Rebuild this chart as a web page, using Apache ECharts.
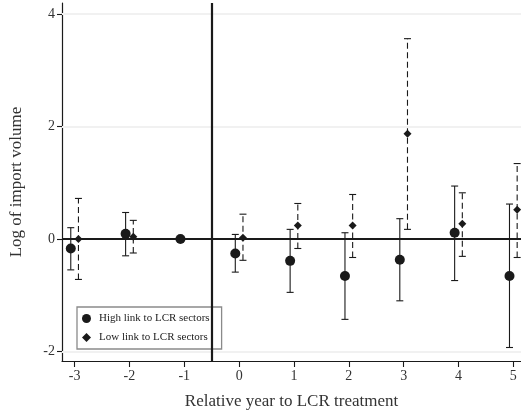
<!DOCTYPE html>
<html>
<head>
<meta charset="utf-8">
<script src="https://cdn.jsdelivr.net/npm/echarts@6/dist/echarts.min.js"></script>
<style>
html,body{margin:0;padding:0;background:#fff;}
#c{width:521px;height:416px;}
</style>
</head>
<body>
<div id="c"></div>
<script>
var years = [-3, -2, -1, 0, 1, 2, 3, 4, 5];
var xTicks = [-3, -2, -1, 0, 1, 2, 3, 4, 5];
var yTicks = [-2, 0, 2, 4];
var highEst = [-0.17, 0.09, 0.0, -0.26, -0.39, -0.66, -0.37, 0.11, -0.66];
var highLo  = [-0.55, -0.30, null, -0.59, -0.95, -1.43, -1.10, -0.74, -1.93];
var highHi  = [0.20, 0.47, null, 0.08, 0.17, 0.11, 0.36, 0.94, 0.62];
var lowYears = [-3, -2, 0, 1, 2, 3, 4, 5];
var lowEst = [0.00, 0.04, 0.02, 0.24, 0.24, 1.87, 0.27, 0.52];
var lowLo  = [-0.72, -0.25, -0.38, -0.17, -0.33, 0.17, -0.31, -0.33];
var lowHi  = [0.72, 0.33, 0.44, 0.63, 0.79, 3.56, 0.82, 1.34];
var OFF = 0.07;
var FONT = 'Liberation Serif';
var INK = '#1a1a1a';

var highPts = years.map(function (y, i) { return [y - OFF, highEst[i]]; });
var highCI = [];
years.forEach(function (y, i) { if (highLo[i] !== null) highCI.push([y - OFF, highLo[i], highHi[i]]); });
var lowPts = lowYears.map(function (y, i) { return [y + OFF, lowEst[i]]; });
var lowCI = lowYears.map(function (y, i) { return [y + OFF, lowLo[i], lowHi[i]]; });

function errRender(dashed) {
  return function (params, api) {
    var x = api.value(0), lo = api.value(1), hi = api.value(2);
    var p1 = api.coord([x, lo]), p2 = api.coord([x, hi]);
    var w = 3.5;
    var solid = { stroke: INK, lineWidth: 1.1 };
    var vs = { stroke: INK, lineWidth: 1.1, lineDash: dashed ? [6, 3.5] : null };
    return {
      type: 'group',
      children: [
        { type: 'line', shape: { x1: p1[0], y1: p1[1], x2: p2[0], y2: p2[1] }, style: vs },
        { type: 'line', shape: { x1: p1[0] - w, y1: p1[1], x2: p1[0] + w, y2: p1[1] }, style: solid },
        { type: 'line', shape: { x1: p2[0] - w, y1: p2[1], x2: p2[0] + w, y2: p2[1] }, style: solid }
      ]
    };
  };
}

var chart = echarts.init(document.getElementById('c'), null, { renderer: 'canvas' });
chart.setOption({
  animation: false,
  backgroundColor: '#fff',
  grid: { left: 61.7, right: 0, top: 3, bottom: 55 },
  legend: {
    orient: 'vertical',
    left: 77, top: 307,
    padding: [6, 12, 6, 5],
    itemWidth: 9, itemHeight: 9, itemGap: 8,
    borderColor: '#8a8a8a', borderWidth: 1.3,
    backgroundColor: '#fff',
    textStyle: { fontFamily: FONT, fontSize: 11, color: '#222', padding: [0, 0, 0, 3] },
    data: [
      { name: 'High link to LCR sectors', icon: 'circle' },
      { name: 'Low link to LCR sectors', icon: 'diamond' }
    ]
  },
  xAxis: {
    type: 'value', min: -3.23, max: 5.14,
    name: 'Relative year to LCR treatment', nameLocation: 'middle', nameGap: 32,
    nameTextStyle: { fontFamily: FONT, fontSize: 17, color: '#333' },
    axisLine: { show: true, onZero: false, lineStyle: { color: INK, width: 1.2 } },
    axisTick: { show: true, length: 6, customValues: xTicks, lineStyle: { color: INK, width: 1.1 } },
    axisLabel: { customValues: xTicks, fontFamily: FONT, fontSize: 14, color: '#333', margin: 8 },
    splitLine: { show: false }
  },
  yAxis: {
    type: 'value', min: -2.17, max: 4.194,
    name: 'Log of import volume', nameLocation: 'middle', nameGap: 37,
    nameTextStyle: { fontFamily: FONT, fontSize: 17, color: '#333' },
    axisLine: { show: true, onZero: false, lineStyle: { color: INK, width: 1.2 } },
    axisTick: { show: true, length: 5, customValues: yTicks, lineStyle: { color: INK, width: 1.1 } },
    axisLabel: { customValues: yTicks, fontFamily: FONT, fontSize: 14, color: '#333', margin: 7 },
    splitLine: { show: false }
  },
  series: [
    {
      type: 'line', data: [], silent: true,
      markLine: {
        silent: true, symbol: 'none', label: { show: false },
        lineStyle: { color: '#f1f1f1', width: 2, type: 'solid' },
        data: yTicks.map(function (v) { return { yAxis: v }; })
      }
    },
    { type: 'custom', name: 'hiCI', renderItem: errRender(false), data: highCI, z: 3, silent: true },
    { type: 'custom', name: 'loCI', renderItem: errRender(true), data: lowCI, z: 3, silent: true },
    {
      type: 'line', data: [], silent: true, z: 4,
      markLine: {
        silent: true, symbol: 'none', label: { show: false },
        lineStyle: { color: INK, width: 2.2, type: 'solid' },
        data: [{ yAxis: 0 }, { xAxis: -0.5 }]
      }
    },
    {
      type: 'scatter', name: 'High link to LCR sectors', data: highPts,
      symbol: 'circle', symbolSize: 10, itemStyle: { color: INK, opacity: 1 }, z: 6
    },
    {
      type: 'scatter', name: 'Low link to LCR sectors', data: lowPts,
      symbol: 'diamond', symbolSize: 8, itemStyle: { color: INK, opacity: 1 }, z: 6
    }
  ]
});
</script>
</body>
</html>
